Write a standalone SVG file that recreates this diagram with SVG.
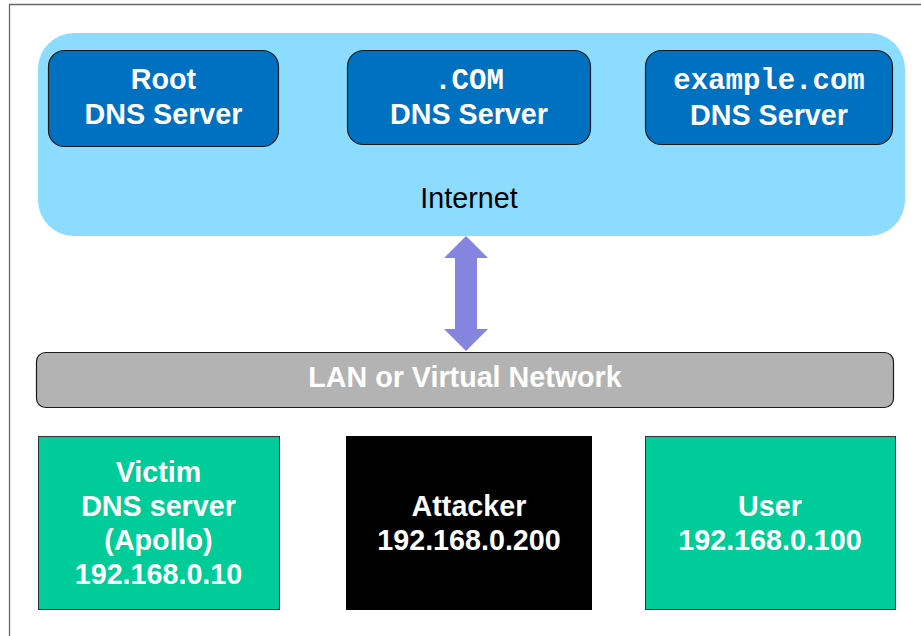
<svg xmlns="http://www.w3.org/2000/svg" width="921" height="636" viewBox="0 0 921 636">
  <style>
    .lbl { font-family: "Liberation Sans", Arial, sans-serif; font-size: 28.7px; font-weight: bold; fill: #FFFFFF; text-anchor: middle; }
    .mono { font-family: "Liberation Mono", "Courier New", monospace; font-size: 29px; font-weight: bold; fill: #FFFFFF; text-anchor: middle; }
    .plain { font-family: "Liberation Sans", Arial, sans-serif; font-size: 28.7px; fill: #000000; text-anchor: middle; }
    .server { fill: #0070C0; stroke: #1A1A1A; stroke-width: 1.2; }
    .host { stroke: #333333; stroke-width: 1; }
  </style>
  <rect x="0" y="0" width="921" height="636" fill="#FFFFFF"/>
  <path d="M9.5 640 V4.5 H925" fill="none" stroke="#666666" stroke-width="1.3"/>

  <g id="internet">
    <rect x="38" y="33" width="867" height="203" rx="36" ry="36" fill="#8CDCFF"/>
    <text class="plain" x="469" y="208">Internet</text>
  </g>

  <g id="root-dns">
    <rect class="server" x="48.5" y="50.5" width="230" height="96" rx="16" ry="16"/>
    <text class="lbl" x="163.5" y="89">Root</text>
    <text class="lbl" x="163.5" y="124">DNS Server</text>
  </g>

  <g id="com-dns">
    <rect class="server" x="347.5" y="50.5" width="243" height="94" rx="16" ry="16"/>
    <text class="mono" x="469" y="89">.COM</text>
    <text class="lbl" x="469" y="124">DNS Server</text>
  </g>

  <g id="example-dns">
    <rect class="server" x="645.5" y="50.5" width="247" height="94" rx="16" ry="16"/>
    <text class="mono" x="769" y="89">example.com</text>
    <text class="lbl" x="769" y="125">DNS Server</text>
  </g>

  <g id="connectors">
    <path d="M466 236 L488 258 L477 258 L477 329 L488 329 L466 351 L444 329 L455 329 L455 258 L444 258 Z" fill="#8585E0"/>
  </g>

  <g id="lan">
    <rect x="36.5" y="352.5" width="857" height="55" rx="9" ry="9" fill="#B3B3B3" stroke="#1A1A1A" stroke-width="1.2"/>
    <text class="lbl" x="465" y="387">LAN or Virtual Network</text>
  </g>

  <g id="victim">
    <rect class="host" x="38.5" y="436.5" width="241" height="173" fill="#00CC99"/>
    <text class="lbl" x="158.5" y="482">Victim</text>
    <text class="lbl" x="158.5" y="516">DNS server</text>
    <text class="lbl" x="158.5" y="550">(Apollo)</text>
    <text class="lbl" x="158.5" y="584">192.168.0.10</text>
  </g>

  <g id="attacker">
    <rect x="346" y="436" width="246" height="174" fill="#000000"/>
    <text class="lbl" x="469" y="516">Attacker</text>
    <text class="lbl" x="469" y="550">192.168.0.200</text>
  </g>

  <g id="user">
    <rect class="host" x="645.5" y="436.5" width="250" height="173" fill="#00CC99"/>
    <text class="lbl" x="770" y="516">User</text>
    <text class="lbl" x="770" y="550">192.168.0.100</text>
  </g>
</svg>
